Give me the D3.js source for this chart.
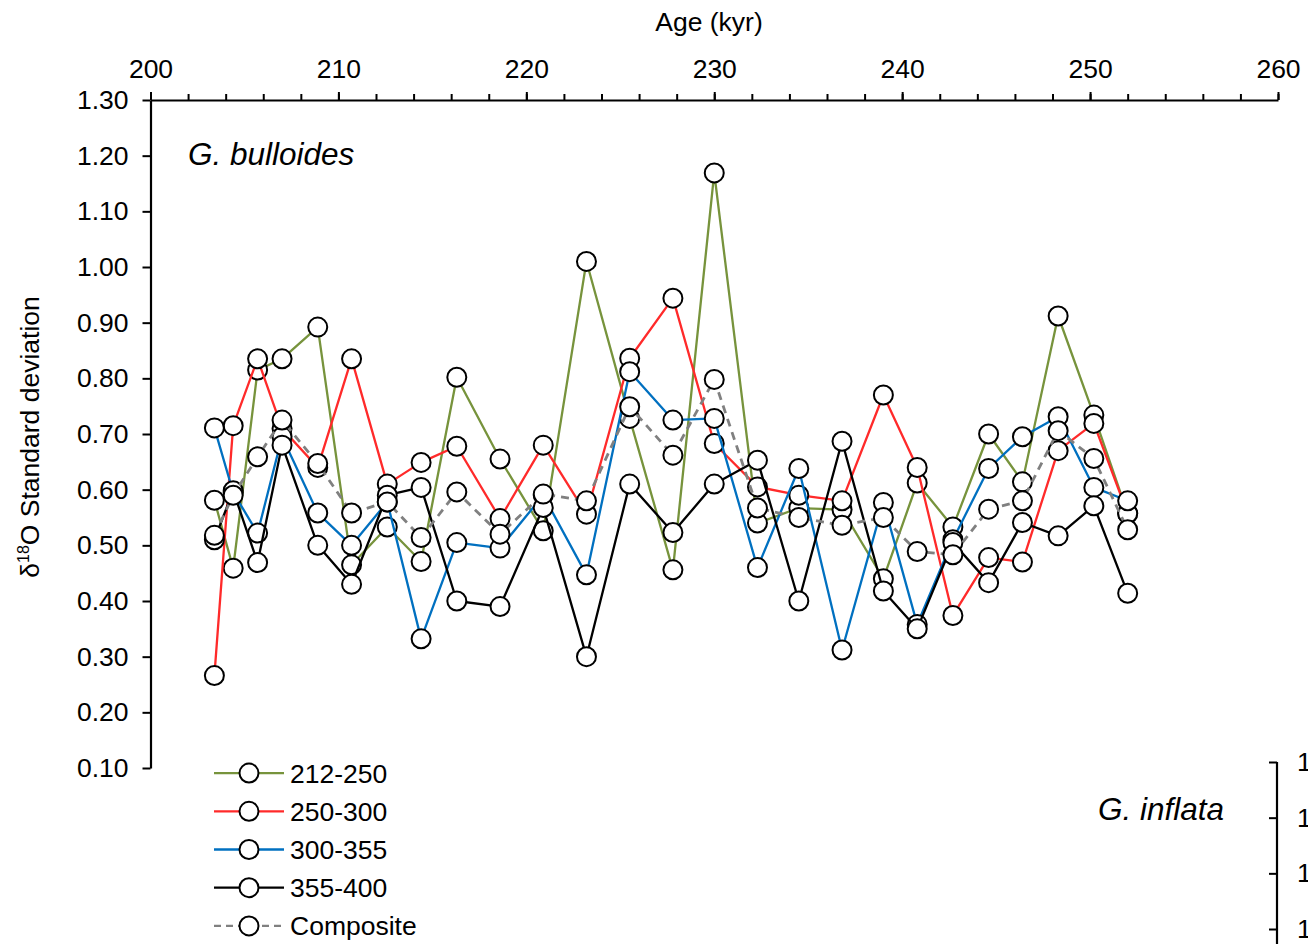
<!DOCTYPE html>
<html>
<head>
<meta charset="utf-8">
<script src="https://cdn.jsdelivr.net/npm/d3@7/dist/d3.min.js"></script>
<style>
  html, body { margin: 0; padding: 0; background: #fff; }
  svg { display: block; }
  text { font-family: "Liberation Sans", Arial, sans-serif; fill: #000; }
</style>
</head>
<body>
<svg id="chart" width="1308" height="944"></svg>
<script>
// Sample ages (kyr)
const ages = [203.4, 204.4, 205.7, 207.0, 208.9, 210.7, 212.6, 214.4, 216.3, 218.6, 220.9, 223.2, 225.5,
              227.8, 230.0, 232.3, 234.5, 236.8, 239.0, 240.8, 242.7, 244.6, 246.4, 248.3, 250.2, 252.0];

// δ18O standard deviation per size fraction (µm)
const sd212_250 = [0.581, 0.459, 0.815, 0.835, 0.892, 0.465, 0.533, 0.471, 0.802, 0.655, 0.526, 1.010, 0.728,
                   0.456, 1.169, 0.540, 0.567, 0.564, 0.440, 0.612, 0.533, 0.700, 0.614, 0.912, 0.734, 0.557];
const sd250_300 = [0.266, 0.715, 0.835, 0.710, 0.640, 0.835, 0.610, 0.649, 0.678, 0.548, 0.680, 0.556, 0.836,
                   0.944, 0.683, 0.605, 0.590, 0.580, 0.770, 0.640, 0.374, 0.478, 0.470, 0.670, 0.719, 0.557];
const sd300_355 = [0.711, 0.595, 0.522, 0.695, 0.558, 0.500, 0.578, 0.332, 0.505, 0.495, 0.590, 0.447, 0.812,
                   0.725, 0.728, 0.460, 0.638, 0.312, 0.577, 0.358, 0.510, 0.638, 0.695, 0.731, 0.604, 0.580];
const sd355_400 = [0.510, 0.598, 0.469, 0.680, 0.500, 0.430, 0.590, 0.604, 0.400, 0.390, 0.568, 0.300, 0.610,
                   0.523, 0.610, 0.653, 0.400, 0.687, 0.418, 0.350, 0.505, 0.433, 0.541, 0.517, 0.571, 0.414];
const sdComposite = [0.518, 0.590, 0.659, 0.725, 0.647, 0.558, 0.578, 0.514, 0.596, 0.520, 0.592, 0.580, 0.749,
                     0.662, 0.798, 0.567, 0.550, 0.536, 0.550, 0.489, 0.483, 0.565, 0.580, 0.706, 0.656, 0.528];

const seriesNames = ["212-250", "250-300", "300-355", "355-400", "Composite"];
const seriesValues = [sd212_250, sd250_300, sd300_355, sd355_400, sdComposite];
const seriesColors = ["#77933C", "#FF2A2A", "#0070C0", "#000000", "#808080"];
const seriesDashed = [false, false, false, false, true];

// Axis ticks
const ageTicks = [200, 210, 220, 230, 240, 250, 260];
const ageMinorTicks = d3.range(200, 260.001, 2);
const sdTicks = [0.10, 0.20, 0.30, 0.40, 0.50, 0.60, 0.70, 0.80, 0.90, 1.00, 1.10, 1.20, 1.30];
const inflataTicks = [1.30, 1.20, 1.10, 1.00];

const svg = d3.select("#chart");
const fontSize = 26.5;

const x = d3.scaleLinear().domain([200, 260]).range([150.5, 1278]);
const y = d3.scaleLinear().domain([0.10, 1.30]).range([768, 100]);

// Top age axis: minor ticks then labelled major ticks
svg.append("g")
  .attr("transform", "translate(0,100)")
  .call(d3.axisTop(x).tickValues(ageMinorTicks).tickSize(6).tickFormat(""))
  .call(g => g.select(".domain").remove())
  .call(g => g.selectAll("line").attr("stroke", "#000").attr("stroke-width", 2));

svg.append("g")
  .attr("transform", "translate(0,100)")
  .call(d3.axisTop(x).tickValues(ageTicks).tickSize(8).tickSizeOuter(0).tickPadding(14).tickFormat(d3.format("d")))
  .call(g => g.select(".domain").attr("stroke", "#000").attr("stroke-width", 2.2))
  .call(g => g.selectAll("line").attr("stroke", "#000").attr("stroke-width", 2))
  .call(g => g.selectAll("text").attr("font-size", fontSize).attr("font-family", "Liberation Sans, Arial, sans-serif").attr("fill", "#000"));

svg.append("text")
  .attr("x", 709).attr("y", 31)
  .attr("text-anchor", "middle")
  .attr("font-size", fontSize)
  .text("Age (kyr)");

// Left SD axis
svg.append("g")
  .attr("transform", "translate(150.5,0)")
  .call(d3.axisLeft(y).tickValues(sdTicks).tickSize(8).tickSizeOuter(0).tickPadding(14).tickFormat(d3.format(".2f")))
  .call(g => g.select(".domain").attr("stroke", "#000").attr("stroke-width", 2.2))
  .call(g => g.selectAll("line").attr("stroke", "#000").attr("stroke-width", 2))
  .call(g => g.selectAll("text").attr("font-size", fontSize).attr("font-family", "Liberation Sans, Arial, sans-serif").attr("fill", "#000"));

const yl = svg.append("text")
  .attr("transform", "translate(39,437) rotate(-90)")
  .attr("text-anchor", "middle")
  .attr("font-size", fontSize);
yl.append("tspan").text("δ");
yl.append("tspan").attr("font-size", 16).attr("dy", -10).text("18");
yl.append("tspan").attr("dy", 10).text("O Standard deviation");

svg.append("text")
  .attr("x", 188).attr("y", 165)
  .attr("font-size", 31.5).attr("font-style", "italic")
  .text("G. bulloides");

// Series: line then markers
const line = d3.line().x((d, i) => x(ages[i])).y(d => y(d));
seriesValues.forEach((vals, k) => {
  const g = svg.append("g");
  g.append("path")
    .attr("d", line(vals))
    .attr("fill", "none")
    .attr("stroke", seriesColors[k])
    .attr("stroke-width", seriesDashed[k] ? 2.8 : 2.3)
    .attr("stroke-dasharray", seriesDashed[k] ? "8,6" : null)
    .attr("stroke-linejoin", "round");
  g.selectAll("circle")
    .data(vals)
    .join("circle")
    .attr("cx", (d, i) => x(ages[i]))
    .attr("cy", d => y(d))
    .attr("r", 9.5)
    .attr("fill", "#fff")
    .attr("stroke", "#000")
    .attr("stroke-width", 2);
});

// Legend
const legendY = d3.scaleBand().domain(seriesNames).range([754, 945]);
const leg = svg.append("g");
seriesNames.forEach((name, k) => {
  const cy = legendY(name) + legendY.bandwidth() / 2;
  leg.append("line")
    .attr("x1", 214).attr("x2", 284).attr("y1", cy).attr("y2", cy)
    .attr("stroke", seriesColors[k])
    .attr("stroke-width", 2.3)
    .attr("stroke-dasharray", seriesDashed[k] ? "7,5" : null);
  leg.append("circle")
    .attr("cx", 249).attr("cy", cy).attr("r", 9.5)
    .attr("fill", "#fff").attr("stroke", "#000").attr("stroke-width", 2);
  leg.append("text")
    .attr("x", 290).attr("y", cy).attr("dy", "0.36em")
    .attr("font-size", fontSize)
    .text(name);
});

// Neighbouring G. inflata panel (right edge)
svg.append("text")
  .attr("x", 1098).attr("y", 820)
  .attr("font-size", 31.5).attr("font-style", "italic")
  .text("G. inflata");

const y2 = d3.scaleLinear().domain([1.00, 1.30]).range([762 + 3 * 55.67, 762]);
svg.append("g")
  .attr("transform", "translate(1277,0)")
  .call(d3.axisRight(y2).tickValues(inflataTicks).tickSizeInner(-8).tickSizeOuter(0).tickPadding(20).tickFormat(d3.format(".2f")))
  .call(g => g.select(".domain").attr("stroke", "#000").attr("stroke-width", 2.2).attr("d", "M0,762V944"))
  .call(g => g.selectAll("line").attr("stroke", "#000").attr("stroke-width", 2))
  .call(g => g.selectAll("text").attr("font-size", fontSize).attr("font-family", "Liberation Sans, Arial, sans-serif").attr("fill", "#000"));
</script>
</body>
</html>
